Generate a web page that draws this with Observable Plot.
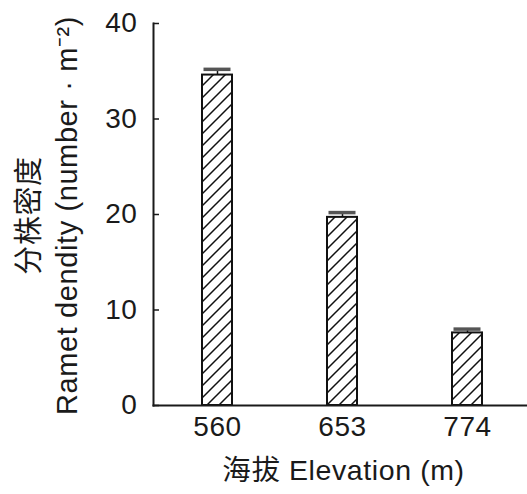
<!DOCTYPE html>
<html><head><meta charset="utf-8">
<script src="https://cdn.jsdelivr.net/npm/d3@7"></script>
<script src="https://cdn.jsdelivr.net/npm/@observablehq/plot@0.6"></script>
<style>body{margin:0;background:#fff}</style>
</head><body><div id="chart"></div>
<script>
const elevations = ["560", "653", "774"];
const density = [34.6, 19.7, 7.6];
const errors = [0.6, 0.5, 0.4];
const yTicks = [0, 10, 20, 30, 40];
const xLabel = "海拔 Elevation (m)";
const yLabelLines = ["分株密度", "Ramet dendity (number · m⁻²)"];

const data = elevations.map((e, i) => ({elevation: e, value: density[i], upper: density[i] + errors[i]}));

const hatchDefs = () => {
  const defs = d3.create("svg:defs");
  const p = defs.append("pattern").attr("id", "hatch")
    .attr("patternUnits", "userSpaceOnUse").attr("width", 12).attr("height", 12);
  p.append("rect").attr("width", 12).attr("height", 12).attr("fill", "#fff");
  p.append("path").attr("d", "M-3,3L3,-3M0,12L12,0M9,15L15,9")
    .attr("stroke", "#111").attr("stroke-width", 1.5).attr("fill", "none");
  return defs.node();
};

const FONT = "'Liberation Sans', Arial, 'Noto Sans CJK SC', sans-serif";

const chart = Plot.plot({
  width: 527,
  height: 494,
  marginLeft: 153,
  marginRight: 0,
  marginTop: 23,
  marginBottom: 89,
  style: {fontFamily: FONT, fontSize: "28px", color: "#1a1a1a", background: "#fff", letterSpacing: "0.6px"},
  x: {domain: elevations, paddingInner: 0.761, paddingOuter: 0.37, align: 0.516, label: null},
  y: {domain: [0, 40], label: null},
  marks: [
    hatchDefs,
    Plot.barY(data, {x: "elevation", y: "value", fill: "url(#hatch)", stroke: "#111", strokeWidth: 2}),
    Plot.ruleX(data, {x: "elevation", y1: "value", y2: "upper", stroke: "#111", strokeWidth: 1.5}),
    Plot.tickY(data, {x: "elevation", y: "upper", stroke: "#555", strokeWidth: 3.5, insetLeft: 1.5, insetRight: 1.5}),
    Plot.frame({anchor: "left", stroke: "#1a1a1a", strokeWidth: 2}),
    Plot.frame({anchor: "bottom", stroke: "#1a1a1a", strokeWidth: 2}),
    Plot.axisY({ticks: yTicks, tickSize: 6, dx: 6, text: null, label: null, stroke: "#1a1a1a", strokeWidth: 1.5}),
    Plot.axisY({ticks: yTicks, tickSize: 0, tickPadding: 16, label: null, fontSize: 28}),
    Plot.axisX({tickSize: 0, tickPadding: 11, label: null, fontSize: 28}),
    Plot.text([xLabel], {frameAnchor: "bottom", lineAnchor: "top", dy: 54, dx: 3, fontSize: 28.5, fill: "#1a1a1a"}),
    Plot.text([yLabelLines.join("\n")], {frameAnchor: "left", rotate: -90, lineAnchor: "top", textAnchor: "middle", dx: -141, dy: 1, lineHeight: 1.3, fontSize: 29, fill: "#1a1a1a"})
  ]
});
document.getElementById("chart").appendChild(chart);
</script>
</body></html>
